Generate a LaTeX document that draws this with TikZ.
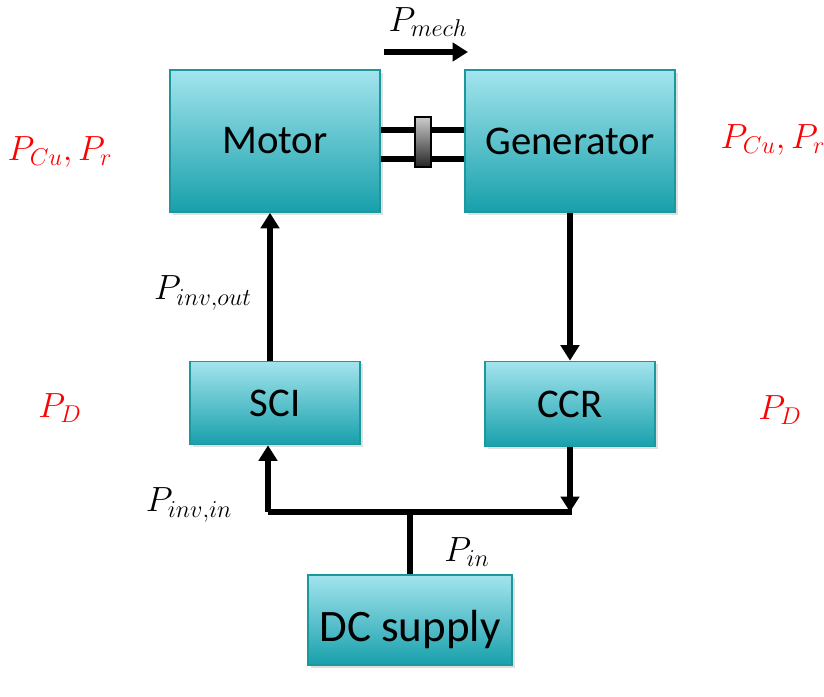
\documentclass[tikz,border=0pt]{standalone}
\usepackage{fontspec}
\setmainfont{Carlito}
\usepackage{xcolor}
\usetikzlibrary{arrows.meta,positioning,calc,shadows}
\definecolor{boxtop}{HTML}{A3E4EE}
\definecolor{boxbot}{HTML}{17A0AB}
\definecolor{boxline}{HTML}{1B979E}
\newcommand{\lbl}{\fontsize{24}{28}\selectfont}

\begin{document}
\begin{tikzpicture}[x=0.025cm, y=-0.025cm,
  blk/.style={draw=boxline, line width=1.2pt, top color=boxtop, bottom color=boxbot,
    font=\fontsize{29}{33}\selectfont, text=black,
    drop shadow={opacity=0.25, shadow xshift=2pt, shadow yshift=-2pt}},
  pline/.style={line width=4.3pt, black},
  parr/.style={pline, -{Triangle[width=13pt,length=11pt]}},
  loss/.style={text=red, font=\lbl},
  flow/.style={text=black, font=\lbl}
]
  \useasboundingbox (0,0) rectangle (824,697);

  \node[blk, minimum width=5.25cm, minimum height=3.55cm] (motor) at (275,141) {Motor};
  \node[blk, minimum width=5.25cm, minimum height=3.55cm] (gen) at (570,141) {Generator};
  \node[blk, minimum width=4.25cm, minimum height=2.075cm] (sci) at (275,403) {SCI};
  \node[blk, minimum width=4.25cm, minimum height=2.125cm] (ccr) at (570,404) {CCR};
  \node[blk, minimum width=5.1cm, minimum height=2.25cm, font=\fontsize{32}{36}\selectfont,
    text height=38pt, text depth=8pt] (dc) at (410,620) {DC supply};

  % shaft and coupling
  \draw[pline] ($(motor.east)+(0,-11)$) -- ($(gen.west)+(0,-11)$);
  \draw[pline] ($(motor.east)+(0,18)$) -- ($(gen.west)+(0,18)$);
  \node[draw=black, line width=1.2pt, top color=black!20, bottom color=black!85,
    minimum width=0.4cm, minimum height=1.25cm, inner sep=0pt] (coupler) at (423,142) {};

  \coordinate (m1) at (384,52);
  \coordinate (m2) at (468,52);
  \draw[parr] (m1) -- (m2);
  \node[flow] (pmech) at (428,22) {$P_{mech}$};

  % power flow
  \coordinate (jl) at (268,512);
  \coordinate (jr) at (572,512);
  \draw[parr] (sci.north -| 270,0) -- (motor.south -| 270,0);
  \draw[parr] (gen.south) -- (ccr.north);
  \draw[pline] (jl) -- (jr);
  \draw[parr] (ccr.south) -- (ccr.south |- jl);
  \draw[parr] (jl) -- (sci.south -| jl);
  \draw[pline] (dc.north) -- (dc.north |- jl);

  \node[flow] (pout) at (203,293) {$P_{inv,out}$};
  \node[flow] (pinvin) at (189,505) {$P_{inv,in}$};
  \node[flow] (pin) at (467,552) {$P_{in}$};

  \node[loss] (lossm) at (60,152) {$P_{Cu}, P_r$};
  \node[loss] (lossg) at (773,140) {$P_{Cu}, P_r$};
  \node[loss] (lossl) at (60,408) {$P_D$};
  \node[loss] (lossr) at (780,410) {$P_D$};
\end{tikzpicture}
\end{document}
